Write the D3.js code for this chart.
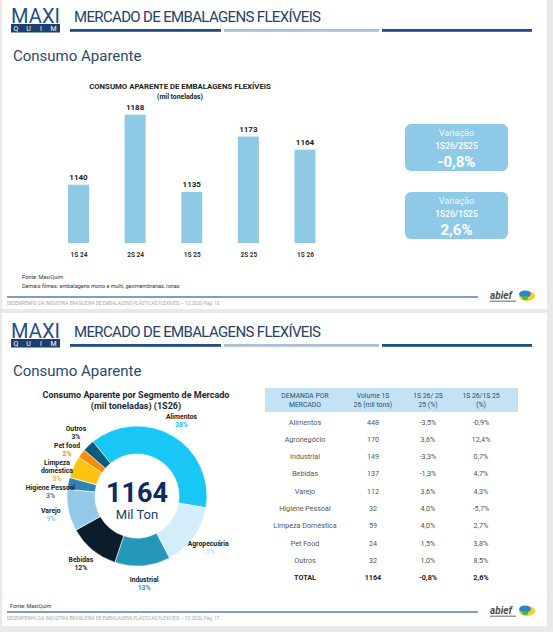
<!DOCTYPE html>
<html>
<head>
<meta charset="utf-8">
<script src="https://cdn.jsdelivr.net/npm/d3@7"></script>
<style>
  body { margin: 0; background: #e9e9e9; }
  svg { display: block; font-family: Roboto, "DejaVu Sans", sans-serif; }
</style>
</head>
<body>
<div id="chart"></div>
<script>
// slide 1 - consumo aparente por semestre
var periodos = ["1S 24", "2S 24", "1S 25", "2S 25", "1S 26"];
var consumo = [1140, 1188, 1135, 1173, 1164];
var varTitulos = ["1S26/2S25", "1S26/1S25"];
var varValores = ["-0,8%", "2,6%"];

// slide 2 - donut por segmento
var segmentos = ["Alimentos", "Agropecuária", "Industrial", "Bebidas", "Varejo", "Higiene Pessoal", "Limpeza doméstica", "Pet food", "Outros"];
var volumes = [448, 170, 149, 137, 112, 32, 59, 24, 32];
var pctLabels = ["38%", "15%", "13%", "12%", "9%", "3%", "5%", "2%", "3%"];

// slide 2 - tabela
var tabHeader = [["DEMANDA POR", "MERCADO"], ["Volume 1S", "26 (mil tons)"], ["1S 26/ 2S", "25 (%)"], ["1S 26/1S 25", "(%)"]];
var mercados = ["Alimentos", "Agronegócio", "Industrial", "Bebidas", "Varejo", "Higiene Pessoal", "Limpeza Doméstica", "Pet Food", "Outros", "TOTAL"];
var volTabela = [448, 170, 149, 137, 112, 32, 59, 24, 32, 1164];
var var2S25 = ["-3,5%", "3,6%", "-3,3%", "-1,3%", "3,6%", "4,0%", "4,0%", "1,5%", "1,0%", "-0,8%"];
var var1S25 = ["-0,9%", "12,4%", "0,7%", "4,7%", "4,3%", "-5,7%", "2,7%", "3,8%", "8,5%", "2,6%"];

var W = 553, H = 632;
var svg = d3.select("#chart").append("svg").attr("width", W).attr("height", H);

// fundo dos slides
[[0, 309], [313, 313]].forEach(function (s) {
    svg.append("rect").attr("x", 2).attr("y", s[0]).attr("width", 545).attr("height", s[1]).style("fill", "#fff");
});

function header(g) {
    // logo MAXI QUIM
    g.append("text").text("MAXI").attr("x", 11).attr("y", 22.5).attr("textLength", 49)
        .style("font-size", "20px").style("fill", "#1d4f8f").style("font-weight", 400);
    g.append("rect").attr("x", 11).attr("y", 24).attr("width", 49).attr("height", 8.5).style("fill", "#1d3e6e");
    ["Q", "U", "I", "M"].forEach(function (l, i) {
        g.append("text").text(l).attr("x", 16 + i * 12.5).attr("y", 31.3).attr("text-anchor", "middle")
            .style("font-size", "7px").style("fill", "#fff");
    });
    g.append("text").text("MERCADO DE EMBALAGENS FLEXÍVEIS").attr("x", 74).attr("y", 21.5).attr("textLength", 247)
        .style("font-size", "15px").style("fill", "#26406a");
    g.append("rect").attr("x", 70).attr("y", 29).attr("width", 151).attr("height", 2.8).style("fill", "#1f4e85");
    g.append("rect").attr("x", 224).attr("y", 29).attr("width", 155).attr("height", 2.8).style("fill", "#a9bfd6");
    g.append("rect").attr("x", 382).attr("y", 29).attr("width", 150).attr("height", 2.8).style("fill", "#1f4e85");
    g.append("text").text("Consumo Aparente").attr("x", 13).attr("y", 61)
        .style("font-size", "15px").style("fill", "#2c4a6e");
}

function footer(g, y, pag) {
    g.append("line").attr("x1", 7).attr("x2", 478).attr("y1", y).attr("y2", y)
        .style("stroke", "#5a7ea6").style("stroke-width", 1.3);
    g.append("text").text("DESEMPENHO DA INDÚSTRIA BRASILEIRA DE EMBALAGENS PLÁSTICAS FLEXÍVEIS – 1S 2026| Pag. " + pag)
        .attr("x", 7).attr("y", y + 8).style("font-size", "4.6px").style("fill", "#a8a8a8");
    // logo abief
    g.append("text").text("abief").attr("x", 490).attr("y", y + 2).style("font-size", "10px")
        .style("font-weight", "bold").style("font-style", "italic").style("fill", "#4d4d4d");
    g.append("rect").attr("x", 490).attr("y", y + 3.5).attr("width", 26).attr("height", 1.5).style("fill", "#999");
    g.append("ellipse").attr("cx", 527).attr("cy", y - 1).attr("rx", 8).attr("ry", 5).style("fill", "#f3d21c");
    g.append("ellipse").attr("cx", 525).attr("cy", y - 3).attr("rx", 6).attr("ry", 3.5).style("fill", "#2a86c8");
    g.append("ellipse").attr("cx", 525).attr("cy", y + 1).attr("rx", 3).attr("ry", 2).style("fill", "#4cb848");
}

// ---------- slide 1 ----------
var s1 = svg.append("g");
header(s1);

s1.append("text").text("CONSUMO APARENTE DE EMBALAGENS FLEXÍVEIS").attr("x", 180).attr("y", 89)
    .attr("text-anchor", "middle").style("font-size", "7.8px").style("font-weight", "bold").style("fill", "#222");
s1.append("text").text("(mil toneladas)").attr("x", 180).attr("y", 98.5)
    .attr("text-anchor", "middle").style("font-size", "6.8px").style("font-weight", "bold").style("fill", "#222");

var x = d3.scalePoint().domain(periodos).range([78.5, 305]);
var y = d3.scaleLinear().domain([1100, 1200]).range([243, 97.2]);
var barW = 21;

s1.selectAll("rect.bar").data(consumo).enter().append("rect").attr("class", "bar")
    .attr("x", function (d, i) { return x(periodos[i]) - barW / 2; })
    .attr("y", function (d) { return y(d); })
    .attr("width", barW)
    .attr("height", function (d) { return y(1100) - y(d); })
    .style("fill", "#8ecae6");

s1.selectAll("text.val").data(consumo).enter().append("text").attr("class", "val")
    .text(function (d) { return d; })
    .attr("x", function (d, i) { return x(periodos[i]); })
    .attr("y", function (d) { return y(d) - 5; })
    .attr("text-anchor", "middle").style("font-size", "8px").style("font-weight", "bold").style("fill", "#222");

var xAxis = s1.append("g").attr("transform", "translate(0,243)")
    .call(d3.axisBottom(x).tickSize(0).tickPadding(9));
xAxis.select(".domain").remove();
xAxis.selectAll("text").style("font-size", "6.5px").style("font-weight", "bold").style("fill", "#333")
    .style("font-family", "Roboto, sans-serif");

// caixas de variação
varTitulos.forEach(function (t, i) {
    var top = 124 + i * 68;
    s1.append("rect").attr("x", 405).attr("y", top).attr("width", 103).attr("height", 47).attr("rx", 6)
        .style("fill", "#8ecae8");
    s1.append("text").text("Variação").attr("x", 456.5).attr("y", top + 12)
        .attr("text-anchor", "middle").style("font-size", "9px").style("fill", "#eef8fd");
    s1.append("text").text(t).attr("x", 456.5).attr("y", top + 25)
        .attr("text-anchor", "middle").style("font-size", "8.5px").style("font-weight", 500).style("fill", "#fff");
    s1.append("text").text(varValores[i]).attr("x", 456.5).attr("y", top + 43)
        .attr("text-anchor", "middle").style("font-size", "15px").style("font-weight", "bold").style("fill", "#fff");
});

s1.append("text").text("Fonte: MaxiQuim").attr("x", 22).attr("y", 279).style("font-size", "5.5px").style("fill", "#333");
s1.append("text").text("Demais filmes: embalagens mono e multi, geomembranas, lonas").attr("x", 22).attr("y", 288)
    .style("font-size", "5.5px").style("fill", "#333");
footer(s1, 297, 16);

// ---------- slide 2 ----------
var s2 = svg.append("g").attr("transform", "translate(0,315)");
header(s2);

var f = svg.append("g");
f.append("text").text("Consumo Aparente por Segmento de Mercado").attr("x", 136).attr("y", 398)
    .attr("text-anchor", "middle").style("font-size", "9px").style("font-weight", "bold").style("fill", "#1c2733");
f.append("text").text("(mil toneladas) (1S26)").attr("x", 136).attr("y", 408.5)
    .attr("text-anchor", "middle").style("font-size", "9px").style("font-weight", "bold").style("fill", "#1c2733");

var cores = ["#19c7f6", "#d3eefb", "#2597b9", "#0b1d2b", "#93c9e8", "#2c86b4", "#fbc312", "#fd8b06", "#0d5b7b"];
var coresPct = ["#19c7f6", "#c9e6f5", "#2597b9", "#1a2733", "#93c9e8", "#2c86b4", "#f5b800", "#f08a00", "#333"];
var a0 = -39 * Math.PI / 180;
var pie = d3.pie().sort(null).startAngle(a0).endAngle(a0 + 2 * Math.PI);
var arcs = pie(volumes);
var arc = d3.arc().innerRadius(42).outerRadius(70);
var labelArc = d3.arc().innerRadius(88).outerRadius(88);

var donut = f.append("g").attr("transform", "translate(137,496)");
donut.selectAll("path").data(arcs).enter().append("path")
    .attr("d", arc)
    .style("fill", function (d, i) { return cores[i]; })
    .style("stroke", "#fff").style("stroke-width", 0.6);

donut.append("text").text(volTabela[volTabela.length - 1]).attr("y", 6).attr("text-anchor", "middle")
    .style("font-size", "27px").style("font-weight", "bold").style("fill", "#0d2b5e");
donut.append("text").text("Mil Ton").attr("y", 23).attr("text-anchor", "middle")
    .style("font-size", "13px").style("fill", "#1a3a6a");

// rótulos: posição no centróide, depois afasta os da esquerda para não sobrepor
var lineH = 8;
var labs = arcs.map(function (d, i) {
    var c = labelArc.centroid(d);
    var linhas = segmentos[i] == "Limpeza doméstica" ? ["Limpeza", "doméstica"] : [segmentos[i]];
    return { i: i, x: c[0], y: c[1], linhas: linhas, h: (linhas.length + 1) * lineH };
});
var esq = labs.filter(function (l) { return l.x < 0; }).sort(function (a, b) { return a.y - b.y; });
for (var k = 1; k < esq.length; k++) {
    var min = esq[k - 1].y + (esq[k - 1].h + esq[k].h) / 2 + 1;
    if (esq[k].y < min) esq[k].y = min;
}

labs.forEach(function (l) {
    var n = l.linhas.length + 1;
    var y0 = l.y - (n - 1) * lineH / 2 + 2.5;
    var t = donut.append("text").attr("text-anchor", "middle");
    l.linhas.forEach(function (s, j) {
        t.append("tspan").text(s).attr("x", l.x).attr("y", y0 + j * lineH)
            .style("font-size", "6.8px").style("font-weight", "bold").style("fill", "#222");
    });
    t.append("tspan").text(pctLabels[l.i]).attr("x", l.x).attr("y", y0 + l.linhas.length * lineH)
        .style("font-size", "6.8px").style("font-weight", "bold").style("fill", coresPct[l.i]);
});

// tabela
var colX = [305, 373, 428, 481];
var rowY = d3.scaleLinear().domain([0, mercados.length - 1]).range([422, 577.7]);

f.append("rect").attr("x", 265).attr("y", 388).attr("width", 253).attr("height", 24).style("fill", "#c3e3f5");
tabHeader.forEach(function (h, i) {
    h.forEach(function (l, j) {
        f.append("text").text(l).attr("x", colX[i]).attr("y", 398 + j * 9).attr("text-anchor", "middle")
            .style("font-size", "6.8px").style("fill", "#2b4a6b");
    });
});

var rows = f.selectAll("g.row").data(mercados).enter().append("g").attr("class", "row")
    .attr("transform", function (d, i) { return "translate(0," + rowY(i) + ")"; });
rows.each(function (m, i) {
    var r = d3.select(this);
    var cells = [m, volTabela[i], var2S25[i], var1S25[i]];
    var total = m == "TOTAL";
    cells.forEach(function (c, j) {
        r.append("text").text(c).attr("x", colX[j]).attr("dy", "0.35em").attr("text-anchor", "middle")
            .style("font-size", "7.2px")
            .style("font-weight", total ? "bold" : "normal")
            .style("fill", total ? "#222" : "#555");
    });
});

f.append("text").text("Fonte: MaxiQuim").attr("x", 10).attr("y", 608).style("font-size", "5.5px").style("fill", "#333");
footer(f, 612, 17);
</script>
</body>
</html>
